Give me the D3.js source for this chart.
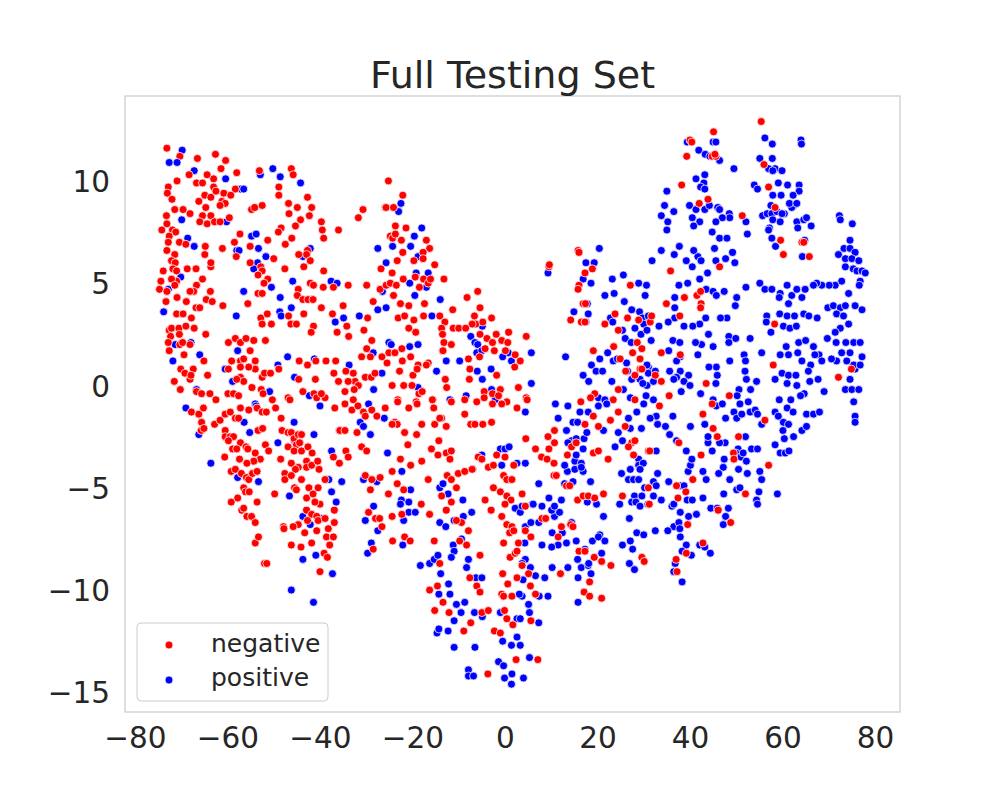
<!DOCTYPE html>
<html>
<head>
<meta charset="utf-8">
<script src="https://cdn.jsdelivr.net/npm/d3@7"></script>
<style>
  body { margin: 0; background: #fff; }
  text { font-family: "DejaVu Sans", sans-serif; fill: #262626; }
</style>
</head>
<body>
<script>
// points, [x, y]
const negative = [
[-73.1,11.6],[-70.3,11.2],[-66.5,11.1],[-62.6,11.3],[-60.4,11.0],[-68.3,10.3],[-64.4,10.3],[-61.4,10.6],[-63.0,10.1],[-58.0,10.4],[-53.1,10.5],[-46.2,10.6],[-45.8,10.3],[-70.9,10.0],[-72.8,9.7],[-73.0,9.4],[-66.7,9.9],[-65.4,9.9],[-63.0,9.7],[-62.5,9.5],[-64.9,9.3],[-63.6,9.2],[-60.8,9.4],[-58.3,9.6],[-59.3,9.3],[-48.9,9.7],[-48.9,9.3],[-42.7,9.2],[-72.0,9.1],[-66.2,9.0],[-61.2,9.0],[-60.5,8.9],[-61.6,8.8],[-64.7,8.7],[-54.8,8.6],[-54.1,8.7],[-52.5,8.8],[-46.8,8.9],[-44.9,8.7],[-41.8,8.7],[-42.3,8.3],[-31.7,8.2],[-30.7,8.6],[-25.9,8.7],[-68.1,8.4],[-69.6,8.6],[-71.4,8.6],[-73.2,8.3],[-73.1,7.9],[-65.4,8.3],[-63.6,8.3],[-59.6,8.2],[-66.0,8.0],[-64.4,7.9],[-62.8,8.0],[-61.6,8.0],[-44.2,8.1],[-46.7,8.4],[-39.7,8.0],[-39.5,7.6],[-39.2,7.2],[-36.0,7.6],[-74.2,7.6],[-71.9,7.6],[-71.2,7.5],[-72.6,7.3],[-70.4,7.0],[-69.0,6.9],[-48.4,7.7],[-49.0,7.5],[-45.3,7.8],[-46.1,7.2],[-57.3,7.4],[-51.3,7.1],[-58.5,7.0],[-72.8,7.0],[-73.1,6.6],[-64.8,6.8],[-61.1,6.7],[-55.1,6.8],[-47.5,6.9],[-42.7,6.6],[-42.9,6.4],[-42.1,6.1],[-44.6,6.4],[-64.9,6.4],[-71.4,6.4],[-72.1,6.1],[-71.3,6.0],[-71.8,5.7],[-71.0,5.6],[-58.1,6.3],[-50.0,6.2],[-55.1,6.0],[-52.8,5.8],[-52.5,5.6],[-63.6,5.8],[-63.6,6.0],[-66.8,5.7],[-68.7,5.7],[-73.9,5.6],[-74.4,5.1],[-47.6,5.7],[-39.2,5.6],[-43.5,5.8],[-26.8,5.7],[-53.4,5.4],[-51.3,5.2],[-52.1,5.0],[-65.4,5.2],[-71.0,5.1],[-72.1,5.2],[-71.4,4.9],[-74.7,4.7],[-73.1,4.6],[-66.7,4.9],[-67.3,4.6],[-68.1,4.6],[-63.7,4.6],[-53.4,4.5],[-52.5,4.5],[-44.7,4.7],[-42.1,5.0],[-41.4,4.9],[-39.3,4.8],[-37.1,4.8],[-33.9,4.9],[-29.9,4.9],[-27.0,4.7],[-73.3,4.1],[-70.9,4.3],[-68.9,4.1],[-66.8,3.8],[-66.0,3.8],[-64.6,4.2],[-63.3,4.1],[-61.0,3.9],[-55.6,4.0],[-44.9,4.4],[-43.7,4.2],[-42.6,4.2],[-41.5,4.2],[-39.7,3.8],[-35.0,3.9],[-28.5,4.1],[-71.0,3.5],[-69.6,3.5],[-67.8,3.3],[-52.8,3.3],[-51.4,3.5],[-52.5,3.0],[-50.5,3.0],[-46.8,3.4],[-46.3,3.0],[-45.1,3.0],[-43.5,3.5],[-41.4,2.9],[-41.9,2.6],[-37.3,3.5],[-36.3,2.6],[-34.2,2.9],[-33.8,2.4],[-30.5,2.7],[-29.7,3.3],[-28.8,2.2],[-72.6,2.7],[-72.1,2.8],[-70.5,2.8],[-69.0,2.9],[-72.3,2.4],[-72.8,2.1],[-70.4,2.5],[-67.2,2.8],[-70.3,2.0],[-69.7,2.1],[-68.1,2.0],[-69.4,1.5],[-72.6,1.7],[-64.7,2.5],[-65.1,1.2],[-70.1,0.8],[-69.2,0.6],[-71.5,0.2],[-70.2,-0.2],[-68.1,0.3],[-67.4,0.8],[-67.9,0.5],[-64.3,0.5],[-66.7,-0.3],[-65.6,-0.4],[-63.8,-0.4],[-62.5,-0.7],[-59.8,2.1],[-58.3,2.3],[-57.2,2.1],[-56.0,2.3],[-54.3,2.2],[-51.8,2.2],[-55.1,1.7],[-59.1,1.2],[-57.2,1.2],[-56.5,1.3],[-54.0,1.2],[-54.0,0.8],[-55.4,0.9],[-57.2,0.9],[-59.8,0.8],[-57.2,0.4],[-56.5,0.2],[-58.0,0.3],[-54.7,-0.1],[-59.9,-0.4],[-58.7,-0.4],[-57.6,-0.5],[-52.5,0.4],[-52.0,0.6],[-50.7,0.6],[-48.9,0.8],[-52.7,-0.2],[-52.3,-0.4],[-46.9,-0.6],[-46.5,-0.7],[-44.5,1.2],[-42.7,1.0],[-41.0,0.3],[-40.9,1.2],[-38.7,1.2],[-36.6,1.2],[-44.6,0.3],[-43.7,-0.3],[-41.3,-0.4],[-40.7,-0.6],[-38.9,-0.6],[-39.7,-0.4],[-37.0,0.6],[-36.0,0.2],[-34.4,0.7],[-32.8,0.6],[-32.4,0.2],[-31.7,0.0],[-32.6,-0.2],[-34.6,-0.3],[-33.9,0.2],[-30.2,0.4],[-28.9,0.4],[-28.1,0.6],[-31.0,1.4],[-29.1,1.4],[-26.6,1.4],[-25.1,1.6],[-29.9,1.8],[-32.8,-0.7],[-25.2,10.0],
[-22.1,9.3],[-25.7,8.7],[-24.1,8.7],[-23.7,7.8],[-21.4,7.7],[-24.8,7.3],[-24.3,7.2],[-23.7,7.4],[-22.4,7.1],[-17.0,7.1],[-16.3,6.7],[-22.1,6.5],[-17.7,6.5],[-19.7,6.1],[-17.7,6.2],[-15.2,5.9],[-23.3,6.1],[-24.4,5.5],[-22.0,5.2],[-17.6,5.2],[-16.6,5.0],[-18.5,4.8],[-16.1,5.2],[-19.4,5.3],[-25.7,4.9],[-24.8,5.0],[-23.5,4.9],[-13.2,5.2],[-24.1,4.4],[-8.2,4.3],[-5.9,4.6],[-22.6,4.0],[-20.8,3.9],[-17.4,4.0],[-5.4,3.8],[-11.3,3.7],[-23.1,3.3],[-21.7,3.4],[-19.7,3.2],[-17.6,3.4],[-14.1,3.4],[-13.0,3.1],[-13.7,2.8],[-20.8,2.8],[-19.3,2.6],[-6.6,3.4],[-6.3,3.0],[-2.9,3.3],[-4.8,3.1],[-7.1,3.0],[-11.2,2.8],[-10.0,2.8],[-8.5,2.8],[-5.4,2.5],[-3.9,2.3],[-1.9,2.5],[-2.7,2.1],[-0.7,2.2],[0.8,2.6],[0.6,2.1],[4.6,2.4],[-13.5,2.5],[-13.2,2.1],[-11.6,2.0],[-13.4,1.7],[-16.6,1.1],[-18.8,1.0],[-20.4,1.4],[-22.3,1.8],[-22.2,1.2],[-23.8,1.6],[-25.5,1.1],[-7.9,1.3],[-5.5,1.4],[-4.3,1.8],[-2.3,1.7],[0.1,1.7],[2.2,1.5],[3.3,1.2],[2.1,0.9],[-22.8,0.7],[-19.9,0.5],[-19.0,0.8],[-17.0,1.0],[-24.4,0.0],[-21.9,0.0],[-20.1,0.0],[-18.6,-0.4],[-23.2,-0.7],[-19.2,-0.8],[-15.6,-0.7],[-17.9,-0.3],[-12.9,0.3],[-12.6,-0.1],[-7.7,0.3],[-7.6,0.8],[-1.8,0.5],[-4.5,-0.3],[-2.7,-0.4],[-1.0,-0.2],[-1.4,-0.5],[0.4,-0.8],[-6.1,-0.8],[-4.5,-0.6],[2.9,-0.1],[4.6,-0.6],[9.5,5.8],[9.6,5.9],[15.8,6.6],[16.0,6.5],[17.3,5.5],[18.9,5.7],[16.0,4.9],[15.8,4.7],[27.1,4.9],[26.5,3.3],[28.9,3.2],[23.8,3.5],[16.9,4.0],[17.4,4.0],[14.2,3.2],[16.5,3.1],[17.3,3.1],[21.6,3.0],[24.5,2.7],[28.6,2.1],[29.6,1.8],[27.6,1.6],[29.2,1.3],[29.2,0.8],[28.1,0.5],[26.1,0.7],[24.9,1.3],[23.5,1.9],[19.1,1.7],[19.4,-0.4],[18.5,-0.6],[24.5,-0.2],[23.4,-0.7],[28.1,-0.7],[16.4,-0.8],[31.4,3.1],
[55.4,12.9],[45.1,12.4],[40.0,12.0],[40.4,11.9],[39.3,11.2],[44.8,11.2],[45.6,11.2],[45.4,11.3],[56.0,10.8],[38.2,9.8],[57.0,9.7],[42.0,8.9],[43.9,9.1],[51.3,8.3],[58.4,8.7],[59.6,7.1],[64.2,7.0],[64.6,7.0],[60.2,6.4],[65.8,6.3],[35.8,5.6],[46.4,5.8],[41.5,4.4],[42.3,4.6],[38.8,4.3],[34.9,4.0],[42.4,4.0],[42.3,3.8],[31.7,3.4],[58.3,3.0],[72.1,0.4],[74.9,0.8],[58.0,1.0],[48.5,-0.5],[43.5,0.1],[33.8,0.2],[32.5,0.5],[35.5,-0.5],[29.6,0.8],[37.9,1.5],[33.8,1.6],[37.8,3.4],
[-67.8,-1.3],[-66.2,-1.4],[-65.2,-1.1],[-65.6,-1.8],[-65.7,-2.2],[-65.1,-2.1],[-62.8,-1.9],[-61.6,-1.7],[-60.5,-1.4],[-59.4,-1.3],[-58.3,-1.6],[-57.6,-1.6],[-57.2,-1.1],[-55.4,-1.2],[-53.6,-1.1],[-52.5,-1.3],[-51.6,-1.3],[-50.3,-0.7],[-49.6,-1.1],[-60.5,-2.2],[-60.5,-2.5],[-59.4,-2.5],[-58.7,-2.5],[-59.8,-2.7],[-57.2,-2.8],[-58.9,-3.1],[-58.0,-3.1],[-56.0,-3.0],[-55.6,-3.1],[-54.0,-3.3],[-52.9,-3.6],[-54.3,-3.7],[-55.8,-3.8],[-57.4,-3.6],[-60.6,-3.5],[-59.2,-4.2],[-58.3,-4.1],[-57.0,-4.3],[-55.9,-4.5],[-55.4,-4.6],[-56.5,-5.0],[-56.1,-5.2],[-55.3,-5.2],[-57.8,-5.5],[-59.2,-5.7],[-56.9,-6.1],[-56.5,-6.0],[-55.8,-6.4],[-54.8,-6.4],[-54.0,-6.7],[-53.6,-5.7],[-54.6,-4.3],[-53.6,-4.2],[-53.4,-2.2],[-52.4,-2.1],[-51.8,-2.9],[-51.1,-3.2],[-54.0,-7.7],[-53.3,-7.4],[-52.0,-8.7],[-51.5,-8.7],[-49.8,-5.3],[-48.4,-1.6],[-48.2,-2.2],[-46.9,-2.3],[-46.2,-2.3],[-45.6,-2.6],[-44.7,-2.4],[-44.0,-2.4],[-45.1,-2.9],[-44.4,-2.8],[-46.9,-3.0],[-45.6,-3.2],[-44.0,-3.2],[-42.6,-3.0],[-41.7,-3.3],[-48.5,-3.6],[-46.2,-3.8],[-44.7,-4.0],[-45.3,-4.1],[-42.9,-3.7],[-42.9,-4.0],[-41.8,-3.9],[-40.5,-3.7],[-40.2,-4.1],[-47.6,-4.3],[-47.6,-4.6],[-46.2,-4.4],[-45.5,-5.0],[-44.0,-4.6],[-42.4,-5.0],[-42.9,-5.5],[-41.5,-5.3],[-40.4,-5.0],[-38.9,-4.6],[-40.0,-5.8],[-41.1,-5.7],[-45.1,-5.1],[-42.9,-6.1],[-41.8,-6.3],[-40.7,-6.4],[-42.7,-6.6],[-40.4,-6.6],[-38.9,-6.5],[-36.9,-6.1],[-36.9,-6.7],[-38.2,-7.0],[-38.6,-7.4],[-37.1,-7.4],[-37.9,-7.8],[-39.1,-8.2],[-38.4,-8.4],[-41.8,-7.7],[-40.7,-7.1],[-43.3,-7.2],[-44.1,-7.9],[-46.2,-7.8],[-44.7,-6.8],[-45.8,-6.9],[-47.9,-6.9],[-47.8,-7.0],[-40.0,-9.1],[-36.8,-1.1],[-34.6,-0.9],[-33.1,-1.2],[-31.8,-1.0],[-30.6,-1.3],[-30.2,-1.5],[-28.8,-1.2],[-27.7,-1.5],[-25.9,-1.1],[-35.7,-2.2],[-34.6,-2.2],[-32.0,-2.3],[-31.0,-3.0],[-29.9,-3.2],[-34.4,-3.2],[-33.9,-3.5],[-35.8,-3.8],[-37.1,-3.5],[-30.2,-4.4],[-28.8,-4.6],[-27.0,-4.5],[-29.1,-5.1],[-29.5,-6.2],[-28.0,-6.5],[-27.1,-6.5],[-26.6,-6.9],[-28.5,-8.0],
[-23.2,-0.8],[-19.0,-0.9],[-15.7,-0.7],[-11.6,-0.8],[-8.7,-0.7],[-20.8,-1.1],[-23.8,-1.8],[-23.3,-1.9],[-21.7,-2.3],[-19.1,-2.4],[-24.4,-1.9],[-18.0,-1.9],[-15.2,-1.9],[-13.7,-1.6],[-12.7,-2.0],[-15.4,-1.1],[-14.1,-1.6],[-8.7,-1.4],[-7.4,-1.9],[-6.5,-1.9],[-4.8,-1.9],[-2.9,-1.8],[-2.7,-0.9],[-0.7,-0.9],[2.6,-1.1],[4.8,-0.7],[4.5,-2.6],[-21.0,-2.9],[-14.3,-2.7],[-18.0,-3.7],[-15.9,-3.1],[-14.5,-3.4],[-12.7,-3.3],[-11.6,-3.2],[-16.6,-4.6],[-11.9,-3.6],[-12.5,-4.4],[-11.6,-4.6],[-10.1,-4.3],[-8.7,-4.2],[-7.1,-4.1],[-10.5,-5.0],[-13.7,-5.4],[-11.6,-5.7],[-12.7,-6.1],[-16.3,-6.3],[-18.1,-5.8],[-20.4,-3.9],[-22.6,-3.6],[-24.4,-4.2],[-23.3,-4.8],[-21.9,-5.1],[-25.2,-5.3],[-24.4,-6.4],[-22.3,-6.3],[-24.3,-7.6],[-21.7,-7.4],[-20.5,-7.6],[-4.3,-5.6],[-2.5,-5.0],[-1.0,-5.2],[0.4,-5.4],[1.3,-5.6],[-0.7,-6.4],[-1.8,-3.4],[0.0,-3.5],[-5.8,-3.5],[-5.0,-3.6],[-3.6,-4.0],[-2.5,-3.9],[1.9,-3.9],[-0.3,-4.4],[0.4,-4.6],[1.5,-4.6],[3.7,-5.3],[4.4,-5.9],[0.0,-5.8],[-3.0,-6.1],[0.4,-6.8],[1.5,-6.9],[1.0,-7.2],[-0.3,-7.7],[1.9,-7.1],[2.9,-7.7],[4.4,-7.1],[5.6,-7.4],[1.1,-8.4],[2.2,-8.2],[-5.4,-8.3],[-7.6,-9.4],[-6.1,-9.8],[-5.4,-10.1],[-16.3,-10.0],[-14.6,-9.8],[-13.4,-10.6],[-12.1,-11.1],[-15.2,-11.0],[-8.9,-12.0],[-7.4,-11.6],[-5.0,-11.1],[-3.6,-11.0],[-2.3,-12.0],[-1.0,-12.1],[-0.7,-10.2],[0.6,-9.7],[2.6,-9.4],[5.5,-9.8],[6.6,-10.2],[5.6,-11.5],[-0.3,-10.3],[1.5,-10.3],[-0.1,-11.0],[0.4,-11.4],[1.7,-11.7],[2.4,-13.4],[7.1,-13.4],[-3.7,-14.1],[-14.1,-8.7],[-15.3,-7.6],[-9.8,-7.6],[-8.3,-7.8],[-9.4,-6.7],[-10.5,-6.6],[-7.9,-7.1],[5.1,-9.2],[3.7,-8.8],[2.6,-8.1],[-0.5,-9.2],[6.6,-3.1],[7.9,-3.5],[9.5,-3.1],[10.7,-2.8],[9.1,-3.6],[10.6,-3.8],[13.5,-3.4],[14.4,-3.0],[15.4,-2.8],[10.6,-4.4],[11.1,-4.4],[13.3,-4.9],[14.0,-4.9],[15.7,-5.6],[16.9,-5.4],[18.0,-5.4],[19.4,-5.5],[21.3,-5.3],[19.1,-3.3],[20.2,-3.2],[22.3,-3.6],[14.2,-6.8],[14.7,-6.9],[16.0,-8.1],[17.3,-8.1],[18.3,-9.6],[17.1,-10.1],[18.3,-10.3],[20.9,-10.4],[22.9,-8.8],[20.9,-8.6],[19.3,-8.4],[12.0,-9.2],[8.0,-6.5],[8.8,-6.5],[11.5,-7.4],[12.2,-6.9],[9.3,-2.5],[10.7,-2.2],[17.3,-1.9],[19.1,-1.5],[20.2,-2.0],[22.8,-1.7],[24.5,-1.3],[26.0,-2.0],[27.4,-2.8],[28.1,-2.7],[26.7,-3.0],[27.8,-3.4],[31.0,-3.2],[29.6,-8.4],[30.1,-8.6],[25.4,-5.4],
[33.4,-1.0],[42.8,-1.4],[44.8,-0.9],[45.0,-2.1],[45.9,-2.5],[50.5,-2.5],[56.2,-1.7],[37.6,-2.8],[31.3,-3.2],[42.4,-3.4],[49.4,-3.3],[49.5,-3.6],[57.0,-3.9],[40.6,-4.6],[31.0,-5.0],[31.2,-5.8],[37.1,-4.9],[39.1,-5.2],[37.4,-5.5],[52.0,-5.3],[46.1,-6.1],[48.8,-6.7],[39.5,-6.8],[42.8,-7.7],[39.2,-8.2],[37.0,-8.5],[37.2,-9.1]
];

const positive = [
[-69.8,11.5],[-72.6,10.9],[-70.9,10.9],[-67.2,10.5],[-60.4,10.1],[-52.9,10.3],[-50.2,10.6],[-48.6,10.2],[-44.2,9.9],[-57.2,9.6],[-56.5,9.6],[-69.9,8.1],[-60.2,8.0],[-68.6,7.2],[-54.8,7.3],[-53.8,7.4],[-67.2,6.8],[-58.0,6.6],[-57.5,6.6],[-53.3,6.7],[-42.1,6.7],[-43.7,6.3],[-51.7,6.3],[-53.5,6.0],[-54.3,5.7],[-70.1,5.3],[-72.8,4.7],[-56.5,4.6],[-50.5,4.8],[-45.9,5.1],[-37.6,5.1],[-36.3,5.0],[-26.5,4.6],[-48.6,4.3],[-46.2,3.8],[-41.7,4.2],[-27.5,3.7],[-25.7,3.8],[-73.8,3.6],[-58.1,3.4],[-48.7,3.6],[-48.4,3.4],[-36.7,3.1],[-34.9,3.3],[-31.5,3.4],[-71.3,2.0],[-67.9,2.1],[-66.0,1.5],[-71.8,1.2],[-66.7,-0.2],[-57.8,1.7],[-60.5,0.8],[-58.9,0.2],[-54.0,-0.9],[-50.9,-0.3],[-49.1,1.0],[-47.0,1.4],[-41.2,1.3],[-45.5,0.4],[-42.3,-0.5],[-33.7,1.0],[-28.5,1.6],[-26.6,0.6],[-28.4,-0.2],[-29.5,-0.9],[-27.5,6.7],[-25.7,6.0],[-25.1,2.1],
[-22.5,8.9],[-23.0,8.5],[-18.0,7.7],[-19.6,7.3],[-24.3,6.8],[-20.4,6.8],[-18.8,6.3],[-19.2,5.5],[-16.6,5.5],[-17.0,4.8],[-20.6,5.0],[-19.5,4.4],[-14.0,4.2],[-15.8,3.4],[-4.9,2.9],[-7.4,2.4],[-6.5,2.1],[-5.9,2.0],[-24.6,2.0],[-20.6,1.9],[-18.8,2.0],[-13.5,1.7],[-12.7,1.2],[-9.8,1.2],[-6.1,1.6],[-5.0,1.7],[0.7,1.6],[-0.5,1.4],[5.7,1.6],[1.4,1.2],[-18.8,-0.1],[-14.8,0.7],[-11.9,-0.7],[-8.4,-0.5],[-6.0,0.7],[-4.9,0.3],[-3.0,0.8],[-2.9,-0.2],[-2.1,-0.7],[5.7,0.1],[9.3,5.5],[20.4,6.7],[17.5,6.0],[19.3,6.0],[16.9,5.2],[18.6,5.0],[23.2,5.2],[25.6,5.4],[28.9,5.0],[30.6,4.9],[30.3,4.4],[21.6,4.4],[23.6,4.5],[25.8,4.1],[27.4,3.7],[29.1,3.6],[29.7,3.3],[31.0,3.4],[17.8,4.0],[18.0,3.5],[14.9,3.6],[17.5,3.1],[22.8,3.3],[23.3,3.1],[25.4,2.7],[26.0,2.3],[27.3,2.1],[28.1,2.8],[30.0,3.0],[29.4,2.5],[22.2,1.6],[20.5,1.3],[23.4,1.2],[24.3,1.3],[26.3,1.1],[26.5,0.7],[27.4,0.3],[29.2,0.3],[30.7,0.0],[18.7,1.0],[19.7,0.7],[21.1,0.7],[16.9,0.5],[18.1,0.2],[13.1,1.4],[20.2,-0.6],[21.6,-0.7],[23.1,0.2],[25.6,-0.2],[27.1,-0.6],[13.6,-1.0],[31.0,0.9],
[56.2,12.1],[64.0,12.0],[64.1,11.8],[39.4,11.9],[45.0,11.9],[45.6,11.9],[57.8,11.8],[41.9,11.5],[43.3,11.3],[46.4,11.0],[44.3,11.2],[55.1,11.1],[57.8,11.1],[57.0,10.6],[58.4,10.6],[59.9,10.5],[57.9,10.5],[49.5,10.6],[43.2,10.3],[41.3,10.1],[43.0,9.9],[42.3,9.7],[43.2,9.6],[35.0,9.5],[53.9,9.8],[54.6,9.6],[59.1,9.9],[61.1,9.8],[63.6,9.8],[63.6,9.5],[62.3,9.3],[59.7,9.3],[57.9,9.3],[57.5,8.8],[34.5,8.8],[36.5,8.5],[33.8,8.3],[35.2,8.0],[35.0,7.6],[39.9,8.8],[41.3,8.6],[43.2,8.6],[44.2,8.8],[46.0,8.7],[46.4,8.6],[48.5,8.4],[48.6,8.2],[47.0,8.2],[45.6,8.0],[52.1,8.0],[52.4,7.4],[40.5,8.2],[42.1,8.0],[40.8,7.8],[44.8,7.5],[46.4,7.2],[48.0,7.2],[55.7,8.3],[56.7,8.4],[57.7,8.4],[58.8,8.5],[60.4,8.4],[62.4,8.8],[62.0,8.7],[61.5,8.9],[63.1,8.9],[57.9,8.1],[59.5,8.0],[59.9,8.4],[63.1,8.0],[64.6,8.1],[65.2,8.2],[63.3,7.7],[66.2,7.8],[57.2,7.7],[57.0,7.6],[57.7,7.2],[64.8,7.1],[58.5,6.8],[64.3,6.3],[72.3,8.3],[72.5,8.1],[75.1,7.9],[74.6,7.1],[73.3,6.7],[74.6,6.7],[75.7,6.5],[72.1,6.4],[73.6,6.2],[75.0,6.2],[76.5,6.1],[73.6,5.8],[75.3,5.7],[76.1,5.6],[77.2,5.6],[77.9,5.5],[76.8,5.1],[76.6,4.9],[72.8,5.1],[71.4,4.9],[70.1,4.9],[68.5,4.9],[67.4,5.0],[66.7,4.9],[74.3,4.5],[31.8,6.1],[33.8,6.6],[36.6,6.4],[37.7,6.8],[39.2,6.1],[40.5,5.8],[41.7,6.3],[42.4,6.1],[43.8,5.5],[45.6,6.1],[47.7,6.2],[49.7,6.0],[45.3,6.7],[40.8,6.6],[49.2,6.5],[42.1,5.2],[37.6,4.9],[39.5,5.0],[36.7,4.3],[36.7,3.8],[43.5,4.7],[45.0,4.6],[45.7,4.4],[47.4,4.6],[52.1,4.8],[50.1,4.3],[49.8,3.9],[48.0,3.3],[46.6,3.3],[55.1,5.0],[56.2,4.7],[57.7,4.7],[59.5,4.5],[61.0,4.9],[62.0,4.4],[63.1,4.7],[64.9,4.7],[64.2,4.3],[61.3,4.0],[59.3,4.3],[56.6,3.4],[56.5,3.1],[57.5,2.6],[59.4,3.5],[61.0,3.4],[62.6,3.4],[64.6,3.5],[65.7,3.4],[67.5,3.3],[60.2,2.9],[61.6,2.8],[63.0,2.9],[63.5,2.1],[65.0,2.2],[66.7,1.9],[67.9,1.5],[68.5,1.2],[69.8,3.8],[71.0,3.9],[72.5,3.8],[73.6,3.9],[75.7,3.9],[77.2,3.7],[71.7,3.5],[73.2,3.4],[74.3,3.0],[72.5,2.8],[71.4,2.6],[69.7,2.3],[71.6,2.1],[73.7,2.1],[75.4,2.1],[76.8,2.1],[74.6,1.6],[72.8,1.6],[71.7,1.2],[70.6,1.3],[73.9,1.2],[75.7,0.8],[75.4,1.0],[77.2,1.4],[76.8,1.0],[74.6,0.3],[73.6,-0.2],[75.0,-0.2],[76.5,-0.2],[75.4,-0.8],[43.4,3.3],[42.1,3.0],[40.6,2.9],[38.7,2.9],[36.7,3.3],[35.3,3.1],[33.3,2.9],[30.7,2.7],[44.0,2.5],[42.5,2.0],[41.2,2.1],[41.7,1.5],[45.0,1.9],[48.4,2.4],[49.9,2.3],[53.0,2.3],[48.4,2.1],[55.5,1.6],[51.7,1.5],[52.0,1.2],[48.6,1.2],[45.7,0.9],[59.5,1.5],[61.3,1.5],[60.8,1.9],[63.3,1.6],[64.2,1.2],[66.1,1.0],[67.0,1.5],[59.9,0.6],[61.3,0.5],[62.9,0.5],[61.0,0.1],[58.4,0.3],[63.1,0.0],[64.7,-0.4],[65.9,0.2],[67.7,0.3],[69.0,-0.3],[65.6,0.7],[63.9,-0.5],[59.3,-0.7],[61.8,-0.7],[51.9,0.7],[52.2,0.3],[54.4,0.2],[50.6,-0.2],[53.1,-0.2],[50.2,-0.5],[52.6,-0.8],[44.1,0.9],[45.9,0.5],[45.6,0.1],[42.3,-0.4],[45.0,-0.7],[39.7,0.5],[37.9,0.7],[37.1,0.4],[38.7,0.2],[40.0,0.0],[38.1,-0.3],[35.6,0.7],[36.5,0.3],[31.0,0.6],[32.1,0.2],[32.5,0.7],[30.5,-0.5],[32.1,-0.7],[29.8,0.1],[37.9,1.4],[37.1,1.2],[35.4,1.7],[31.6,2.2],[36.3,2.2],[37.8,2.1],[30.7,1.0],
[-69.0,-1.1],[-66.2,-2.4],[-56.4,-1.8],[-55.2,-2.3],[-53.8,-1.0],[-63.6,-3.8],[-57.8,-4.5],[-53.3,-4.7],[-45.6,-1.8],[-49.1,-2.8],[-45.5,-2.7],[-44.4,-2.8],[-41.3,-2.4],[-40.0,-1.0],[-38.1,-4.6],[-37.5,-5.2],[-36.5,-5.7],[-46.6,-5.4],[-43.7,-6.4],[-42.1,-6.8],[-39.7,-6.5],[-40.9,-8.3],[-43.7,-8.5],[-37.3,-9.2],[-46.2,-10.0],[-41.4,-10.6],[-26.1,-1.6],[-31.3,-1.8],[-30.6,-2.0],[-29.1,-2.4],[-35.8,-2.2],[-37.5,-3.2],[-35.3,-4.7],[-30.6,-4.6],[-27.7,-4.7],[-28.4,-5.9],[-30.2,-6.6],[-27.5,-7.1],[-28.9,-7.7],[-29.7,-8.2],[-25.4,-3.3],
[-22.3,-4.2],[-22.4,-5.6],[-22.6,-5.8],[-20.8,-5.7],[-20.8,-6.2],[-19.4,-6.2],[-21.9,-6.6],[-22.1,-7.8],[-20.4,-5.1],[-18.3,-8.8],[-16.3,-8.7],[-15.3,-8.5],[-14.5,-8.3],[-13.9,-9.2],[-14.3,-10.2],[-12.2,-9.7],[-11.9,-10.2],[-10.5,-10.7],[-8.7,-10.6],[-9.5,-11.1],[-6.6,-11.1],[-4.9,-11.3],[-11.0,-11.5],[-12.3,-12.0],[-14.7,-12.1],[-14.3,-11.9],[-11.0,-12.8],[-6.5,-12.8],[-9.0,-6.4],[-7.2,-6.2],[-14.1,-6.7],[-12.8,-6.9],[-11.0,-6.6],[-9.4,-7.5],[-11.2,-7.8],[-11.0,-8.1],[-11.6,-8.4],[-7.9,-8.5],[-8.3,-8.9],[-6.3,-9.4],[-5.0,-9.4],[-14.1,-5.0],[-12.3,-5.3],[-13.4,-4.8],[-9.1,-5.6],[-7.0,-4.1],[-5.0,-3.4],[-1.0,-3.1],[0.0,-3.1],[0.9,-3.0],[-0.7,-3.9],[2.6,-3.8],[4.4,-3.8],[4.4,-1.3],[2.2,-6.0],[3.3,-6.2],[3.7,-5.9],[5.9,-5.8],[4.4,-6.9],[5.6,-6.7],[7.3,-6.7],[4.3,-7.7],[4.4,-8.5],[3.7,-8.7],[5.5,-8.9],[3.9,-9.5],[6.6,-9.3],[8.6,-9.4],[3.7,-10.3],[5.1,-10.7],[7.4,-10.3],[9.3,-10.3],[3.1,-10.2],[5.3,-11.1],[2.6,-11.4],[3.3,-11.4],[7.3,-11.6],[-0.5,-12.5],[1.4,-12.7],[3.3,-12.7],[2.6,-12.3],[-1.4,-13.5],[-0.3,-13.7],[-0.1,-14.3],[1.5,-14.1],[1.4,-14.6],[4.0,-14.3],[5.3,-13.3],[-7.9,-13.9],[-7.9,-14.2],[-6.8,-14.2],[-1.0,-11.1],[8.0,-7.8],[10.2,-7.2],[11.5,-7.8],[10.1,-7.9],[13.3,-7.7],[14.4,-6.7],[15.4,-7.6],[15.7,-8.5],[16.5,-8.9],[18.0,-8.8],[18.6,-9.2],[18.1,-8.7],[15.8,-9.4],[15.8,-10.6],[13.6,-8.9],[10.2,-8.9],[12.4,-7.2],[10.7,-6.4],[11.8,-6.2],[12.2,-5.6],[10.1,-6.1],[10.7,-5.9],[8.0,-5.9],[6.1,-5.8],[9.5,-5.5],[7.3,-4.8],[12.9,-4.8],[14.7,-4.7],[17.8,-5.7],[19.8,-5.8],[21.3,-6.4],[20.5,-7.3],[18.9,-7.6],[17.3,-8.0],[20.2,-7.4],[13.5,-4.2],[15.1,-4.1],[16.9,-4.2],[18.5,-4.7],[12.9,-3.9],[15.1,-3.7],[16.5,-3.8],[15.4,-3.4],[16.9,-3.1],[16.5,-4.0],[14.4,-2.7],[13.6,-2.8],[15.4,-2.6],[17.1,-2.6],[17.7,-2.3],[14.7,-1.8],[15.7,-1.8],[13.3,-2.2],[11.5,-1.6],[10.9,-0.9],[16.2,-1.3],[18.0,-1.3],[20.2,-1.0],[22.0,-0.9],[21.3,-2.2],[23.8,-3.0],[24.5,-2.3],[25.4,-2.7],[27.1,-2.1],[26.7,-1.6],[28.5,-1.3],[30.0,-0.9],[29.5,-2.1],[28.9,-3.6],[28.9,-3.9],[27.1,-4.1],[26.7,-4.6],[27.8,-4.6],[25.2,-4.3],[28.9,-4.6],[30.2,-5.0],[28.0,-5.4],[27.4,-5.7],[28.3,-5.7],[29.2,-5.9],[30.9,-5.8],[24.8,-5.8],[26.9,-6.5],[25.4,-7.8],[27.1,-7.6],[27.6,-8.0],[28.5,-7.2],[30.0,-7.3],[26.9,-8.7],[28.0,-9.0],[21.6,-7.6],[20.9,-8.2],
[32.7,-1.5],[31.4,-1.6],[33.0,-1.9],[34.7,-2.0],[36.3,-1.5],[40.1,-2.0],[35.6,-2.4],[37.1,-2.7],[39.2,-3.2],[32.7,-3.2],[29.9,-3.8],[29.2,-4.1],[33.0,-4.3],[32.1,-4.7],[32.7,-4.9],[29.6,-5.4],[32.1,-5.4],[35.4,-4.7],[33.8,-5.6],[36.1,-5.9],[36.5,-5.8],[37.9,-4.9],[38.7,-4.9],[39.4,-5.6],[40.5,-5.6],[39.6,-4.2],[40.1,-3.9],[40.4,-3.6],[42.8,-4.2],[43.5,-4.6],[42.8,-5.5],[44.8,-3.2],[43.9,-2.8],[43.9,-2.5],[43.2,-1.9],[45.7,-1.0],[47.0,-0.9],[47.7,-1.6],[47.6,-2.8],[46.4,-2.8],[49.5,-1.3],[50.1,-1.6],[51.2,-1.4],[53.0,-1.3],[54.1,-1.2],[54.6,-1.4],[50.8,-0.9],[52.0,-2.5],[53.3,-3.1],[54.6,-3.1],[50.4,-3.1],[49.9,-3.3],[51.0,-3.5],[52.2,-3.7],[51.5,-3.3],[47.4,-3.6],[47.2,-4.0],[46.2,-4.3],[48.6,-4.6],[50.5,-4.1],[52.4,-4.3],[55.1,-4.2],[55.5,-4.6],[54.9,-5.2],[54.4,-5.6],[54.6,-5.8],[50.1,-5.1],[50.8,-5.0],[47.3,-5.3],[44.5,-6.0],[45.9,-6.0],[48.3,-6.0],[47.7,-6.4],[47.2,-6.8],[37.9,-6.2],[39.7,-6.4],[41.4,-6.3],[36.5,-6.9],[37.6,-6.7],[37.8,-7.0],[37.9,-7.4],[35.2,-7.1],[32.5,-7.1],[39.2,-7.8],[42.1,-7.8],[43.2,-7.9],[44.4,-8.2],[38.3,-8.1],[40.3,-8.3],[36.8,-8.7],[36.5,-9.1],[38.3,-9.6],[58.4,-1.3],[59.1,-1.5],[61.0,-1.1],[62.3,-1.3],[60.2,-1.8],[61.3,-1.9],[60.1,-2.2],[62.4,-2.5],[60.4,-2.6],[58.4,-2.9],[59.5,-3.3],[60.6,-3.3],[61.4,-3.2],[64.2,-2.2],[65.2,-2.0],[65.2,-1.4],[66.7,-1.4],[68.0,-1.3],[75.7,-1.5],[75.7,-1.8],[55.5,-1.9],[58.9,-5.3]
];

const categories = ["negative", "positive"];
const colours = ["#ff0000", "#0000ff"];
const xTicks = [-80, -60, -40, -20, 0, 20, 40, 60, 80];
const yTicks = [-15, -10, -5, 0, 5, 10];
const titleText = "Full Testing Set";

const W = 1000, H = 800;
const plotL = 125, plotR = 900, plotT = 96, plotB = 712;

const svg = d3.select("body").append("svg").attr("width", W).attr("height", H);

const x = d3.scaleLinear().domain([-82.16, 85.41]).range([plotL, plotR]);
const y = d3.scaleLinear().domain([-15.96, 14.15]).range([plotB, plotT]);
const colour = d3.scaleOrdinal().domain(categories).range(colours);

// mix the two groups so neither one sits wholly on top
const pts = [];
for (let i = 0; i < Math.max(negative.length, positive.length); i++) {
  if (i < negative.length) pts.push({x: negative[i][0], y: negative[i][1], c: "negative"});
  if (i < positive.length) pts.push({x: positive[i][0], y: positive[i][1], c: "positive"});
}

svg.append("g").selectAll("circle").data(pts).enter()
  .append("circle")
  .attr("cx", d => x(d.x))
  .attr("cy", d => y(d.y))
  .attr("r", 4)
  .attr("fill", d => colour(d.c))
  .attr("stroke", "#fff")
  .attr("stroke-width", 0.75);

// frame
svg.append("rect")
  .attr("x", plotL).attr("y", plotT)
  .attr("width", plotR - plotL).attr("height", plotB - plotT)
  .attr("fill", "none").attr("stroke", "#cccccc").attr("stroke-width", 1.25);

const gx = svg.append("g").attr("transform", "translate(0," + plotB + ")")
  .call(d3.axisBottom(x).tickValues(xTicks).tickSize(0).tickPadding(15));
gx.select(".domain").remove();
gx.selectAll("text").attr("font-size", 29.5).attr("font-family", "DejaVu Sans").attr("fill", "#262626");

const gy = svg.append("g").attr("transform", "translate(" + plotL + ",0)")
  .call(d3.axisLeft(y).tickValues(yTicks).tickSize(0).tickPadding(15));
gy.select(".domain").remove();
gy.selectAll("text").attr("font-size", 29.5).attr("dy", "0.36em").attr("font-family", "DejaVu Sans").attr("fill", "#262626");

svg.append("text")
  .attr("x", (plotL + plotR) / 2).attr("y", 88)
  .attr("text-anchor", "middle")
  .attr("font-size", 38)
  .text(titleText);

// legend
const lg = svg.append("g");
lg.append("rect")
  .attr("x", 137).attr("y", 623).attr("width", 191).attr("height", 78)
  .attr("rx", 4).attr("fill", "#fff").attr("fill-opacity", 0.8)
  .attr("stroke", "#cccccc").attr("stroke-width", 1);
categories.forEach((c, i) => {
  lg.append("circle")
    .attr("cx", 169).attr("cy", 645 + i * 35).attr("r", 4)
    .attr("fill", colour(c)).attr("stroke", "#fff").attr("stroke-width", 0.75);
  lg.append("text")
    .attr("x", 211).attr("y", 652 + i * 34)
    .attr("font-size", 25)
    .text(c);
});
</script>
</body>
</html>
